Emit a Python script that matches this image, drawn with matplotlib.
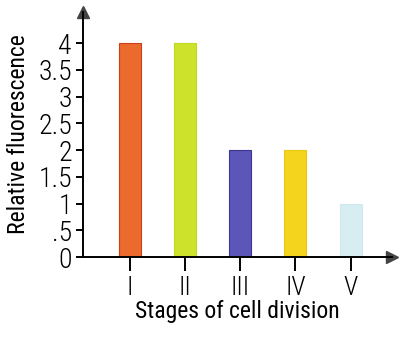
#! /usr/bin/env python3

import numpy as np
import matplotlib
matplotlib.use('Agg')
import matplotlib.pyplot as plt
from matplotlib import font_manager

stages = ['I', 'II', 'III', 'IV', 'V']
fluorescence = [4.0, 4.0, 2.0, 2.0, 1.0]
bar_colors = ['#ec6a2c', '#cde22a', '#5b56b8', '#f4d41c', '#d6eef2']
edge_colors = ['#c8401c', '#c0d820', '#3c3490', '#e8c810', '#d0e8ee']
yticks = [0, 0.5, 1, 1.5, 2, 2.5, 3, 3.5, 4]
ytick_labels = ['0', '.5', '1', '1.5', '2', '2.5', '3', '3.5', '4']

# narrow font if available
names = {f.name for f in font_manager.fontManager.ttflist}
family = 'DejaVu Sans'
for cand in ['Roboto Condensed', 'Liberation Sans Narrow', 'Open Sans Condensed', 'Lato']:
    if cand in names:
        family = cand
        break
plt.rcParams['font.family'] = family
plt.rcParams['font.weight'] = 'light'

fig = plt.figure(figsize=(4.12, 3.41), dpi=100)
ax = fig.add_axes([83/412, 1 - 257/341, (392 - 83)/412, (257 - 12)/341])

x = np.arange(len(stages))
ax.bar(x, fluorescence, width=0.4, color=bar_colors, edgecolor=edge_colors, linewidth=0.8)

ax.set_xlim(-0.85, 4.75)
ax.set_ylim(0, 4.58)

ax.spines['top'].set_visible(False)
ax.spines['right'].set_visible(False)
ax.spines['left'].set_linewidth(1.4)
ax.spines['bottom'].set_linewidth(1.4)

# arrow heads on the axes
ax.plot(1, 0, '>', color='#444444', markersize=9, transform=ax.transAxes, clip_on=False)
ax.plot(0, 1, '^', color='#444444', markersize=9, transform=ax.transAxes, clip_on=False)

ax.set_xticks(x)
ax.set_xticklabels(stages, fontsize=19)
ax.set_yticks(yticks)
ax.set_yticklabels(ytick_labels, fontsize=20)
ax.xaxis.set_tick_params(direction='out', length=10, width=1.4, pad=4)
ax.yaxis.set_tick_params(direction='out', length=5, width=1.4, pad=3)

ax.set_xlabel('Stages of cell division', fontsize=17, labelpad=0)
ax.set_ylabel('Relative fluorescence', fontsize=17, labelpad=6)

fig.savefig('out.png', dpi=100)
